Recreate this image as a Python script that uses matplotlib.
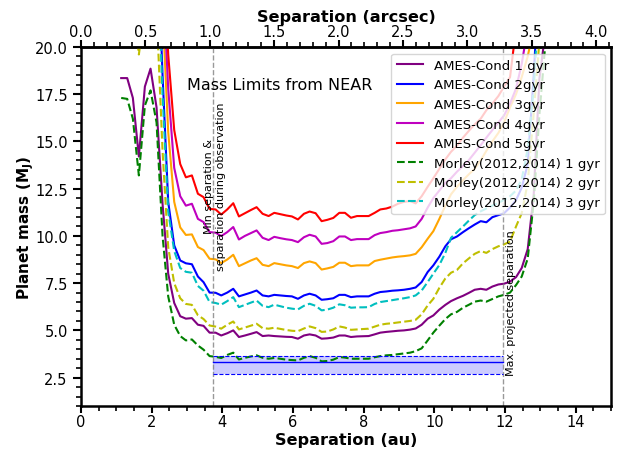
import numpy as np
import matplotlib
matplotlib.use("Agg")
import matplotlib.pyplot as plt
from matplotlib.ticker import MultipleLocator, FixedLocator

nan = np.nan
# separation grid (au)
sep_au = [1.14, 1.31, 1.47, 1.64, 1.81, 1.97, 2.14, 2.31, 2.47, 2.64, 2.81, 2.97, 3.14, 3.31, 3.47,
          3.64, 3.81, 3.97, 4.14, 4.31, 4.47, 4.64, 4.81, 4.97, 5.14, 5.31, 5.47, 5.64, 5.81, 5.97,
          6.14, 6.31, 6.47, 6.64, 6.81, 6.97, 7.14, 7.31, 7.47, 7.64, 7.81, 7.97, 8.14, 8.31, 8.47,
          8.64, 8.81, 8.97, 9.14, 9.31, 9.47, 9.64, 9.81, 9.97, 10.14, 10.31, 10.47, 10.64, 10.81,
          10.97, 11.14, 11.31, 11.47, 11.64, 11.81, 11.97, 12.14, 12.31, 12.47, 12.64, 12.81, 12.97, 13.14]

ames_1gyr = [18.35, 18.35, 17.3, 14.2, 17.9, 18.85, 16.8, 11.7, 8.0, 6.45, 5.75, 5.62, 5.65, 5.3, 5.24, 4.88,
             4.88, 4.73, 4.85, 5.0, 4.65, 4.73, 4.82, 4.91, 4.70, 4.73, 4.70, 4.68, 4.66, 4.65, 4.56, 4.73,
             4.79, 4.73, 4.56, 4.58, 4.62, 4.73, 4.73, 4.65, 4.68, 4.69, 4.70, 4.79, 4.88, 4.92, 4.95, 4.98,
             5.0, 5.04, 5.1,
             5.3, 5.62, 5.79, 6.1, 6.35, 6.55, 6.7, 6.83, 6.98, 7.15, 7.2, 7.15, 7.32, 7.43, 7.47, 7.58,
             7.82, 8.3, 9.3, 12.2, 18.3, 20.8]
ames_2gyr = [nan, nan, nan, nan, nan, nan, 27, 18.5, 11.8, 9.5, 8.7, 8.55, 8.5, 7.85, 7.55, 7.0,
             6.99, 6.85, 7.0, 7.2, 6.8, 6.9, 7.0, 7.11, 6.85, 6.8, 6.88, 6.85, 6.82, 6.8, 6.67, 6.85,
             6.94, 6.85, 6.62, 6.65, 6.7, 6.88, 6.88, 6.76, 6.8, 6.8, 6.8, 6.94, 7.03, 7.06, 7.1, 7.12,
             7.15, 7.2, 7.27,
             7.56, 8.09, 8.44, 8.9, 9.45, 9.82, 9.97, 10.2, 10.4, 10.6, 10.78, 10.72, 10.99, 11.1, 11.2,
             11.5, 11.9, 12.55, 13.8, 18.5, 24, nan]
ames_3gyr = [nan, nan, nan, nan, nan, nan, nan, 22, 15.5, 11.8, 10.45, 10.05, 10.08, 9.41, 9.25, 8.79,
             8.76, 8.56, 8.75, 9.0, 8.4, 8.55, 8.7, 8.82, 8.47, 8.4, 8.56, 8.5, 8.44, 8.4, 8.3, 8.56,
             8.65, 8.56, 8.22, 8.28, 8.36, 8.58, 8.58, 8.4, 8.44, 8.44, 8.44, 8.67, 8.74, 8.8, 8.86, 8.9,
             8.93, 8.97, 9.05,
             9.4, 9.85, 10.25, 10.9, 11.6, 12.2, 12.6, 12.95, 13.25, 13.55, 14.0, 14.5, 15.0, 15.45, 16.0,
             16.8, 17.5, 18.4, 19.5, 21, nan, nan]
ames_4gyr = [nan, nan, nan, nan, nan, nan, nan, 24, 17.8, 13.6, 12.1, 11.6, 11.7, 10.9, 10.73, 10.2,
             10.17, 9.99, 10.2, 10.47, 9.81, 10.0, 10.15, 10.29, 9.9, 9.78, 9.95, 9.88, 9.82, 9.78, 9.67, 9.93,
             10.06, 9.97, 9.58, 9.62, 9.72, 9.97, 9.97, 9.78, 9.83, 9.83, 9.83, 10.04, 10.15, 10.2, 10.27, 10.3,
             10.35, 10.4, 10.5,
             10.9, 11.5, 12.0, 12.4, 12.8, 13.05, 13.4, 13.7, 14.0, 14.4, 14.8, 15.2, 15.6, 16.0, 16.37,
             17.0, 17.8, 19.1, 21, nan, nan, nan]
ames_5gyr = [nan, nan, nan, nan, nan, nan, nan, 26, 19.6, 15.6, 13.8, 13.1, 13.2, 12.23, 12.05, 11.43,
             11.4, 11.13, 11.4, 11.73, 11.03, 11.2, 11.37, 11.52, 11.17, 11.05, 11.22, 11.15, 11.08, 11.03, 10.87, 11.17,
             11.29, 11.2, 10.78, 10.85, 10.95, 11.22, 11.22, 10.96, 11.05, 11.05, 11.05, 11.22, 11.4, 11.45, 11.55, 11.7,
             11.8, 11.85, 11.72,
             12.1, 12.6, 13.05, 13.55, 14.05, 14.45, 14.78, 15.2, 15.55, 15.9, 16.2, 16.65, 17.0, 17.4, 17.9,
             18.4, 21, nan, nan, nan, nan, nan]
morley_1gyr = [17.3, 17.25, 16.2, 13.2, 16.9, 17.7, 16.0, 10.0, 6.8, 5.3, 4.7, 4.47, 4.52, 4.2, 3.98, 3.64,
               3.6, 3.54, 3.7, 3.82, 3.46, 3.55, 3.62, 3.68, 3.55, 3.5, 3.54, 3.5, 3.45, 3.43, 3.41, 3.55,
               3.64, 3.55, 3.36, 3.38, 3.45, 3.59, 3.56, 3.5, 3.5, 3.5, 3.5, 3.58, 3.64, 3.68, 3.7, 3.74,
               3.78, 3.82, 3.9,
               4.05, 4.47, 4.88, 5.25, 5.6, 5.85, 5.98, 6.2, 6.35, 6.52, 6.58, 6.52, 6.66, 6.8, 6.88,
               7.0, 7.4, 7.85, 8.8, 11.8, 16.4, 20.2]
morley_2gyr = [25, 25, 22.5, 19.6, 22, 23, 22, 14.5, 9.4, 7.5, 6.7, 6.4, 6.35, 5.8, 5.6, 5.26,
               5.2, 5.09, 5.3, 5.47, 5.05, 5.15, 5.25, 5.35, 5.12, 5.09, 5.14, 5.08, 5.02, 4.98, 4.96, 5.1,
               5.21, 5.12, 4.92, 4.94, 5.05, 5.21, 5.15, 5.03, 5.05, 5.07, 5.09, 5.2, 5.3, 5.35, 5.38, 5.42,
               5.46, 5.5, 5.56,
               5.85, 6.32, 6.67, 7.25, 7.75, 8.05, 8.2, 8.55, 8.8, 9.05, 9.2, 9.1, 9.3, 9.45, 9.55,
               9.7, 10.5, 11.2, 12.8, 16.5, 20.3, nan]
morley_3gyr = [nan, nan, nan, nan, nan, nan, 26, 17.5, 11.3, 9.2, 8.3, 8.1, 8.05, 7.35, 7.1, 6.5,
               6.45, 6.36, 6.55, 6.76, 6.23, 6.35, 6.47, 6.58, 6.3, 6.23, 6.36, 6.28, 6.2, 6.15, 6.11, 6.3,
               6.41, 6.3, 6.06, 6.1, 6.2, 6.38, 6.33, 6.2, 6.22, 6.22, 6.23, 6.4, 6.5, 6.55, 6.6, 6.65,
               6.7, 6.76, 6.85,
               7.11, 7.56, 8.0, 8.46, 9.1, 9.9, 10.2, 10.5, 10.8, 11.1, 11.3, 11.45, 11.6, 11.75, 11.9,
               12.1, 12.4, 13.0, 14.6, 17.8, 23, nan]

arcsec_ticks = [0.0, 0.5, 1.0, 1.5, 2.0, 2.5, 3.0, 3.5, 4.0]

series = [
    ("AMES-Cond 1 gyr", ames_1gyr, "purple", "-"),
    ("AMES-Cond 2gyr", ames_2gyr, "blue", "-"),
    ("AMES-Cond 3gyr", ames_3gyr, "orange", "-"),
    ("AMES-Cond 4gyr", ames_4gyr, "m", "-"),
    ("AMES-Cond 5gyr", ames_5gyr, "red", "-"),
    ("Morley(2012,2014) 1 gyr", morley_1gyr, "green", "--"),
    ("Morley(2012,2014) 2 gyr", morley_2gyr, "y", "--"),
    ("Morley(2012,2014) 3 gyr", morley_3gyr, "c", "--"),
]

distance_pc = 3.645
min_sep = 3.74
max_sep = 11.93
band_low, band_mid, band_high = 2.67, 3.33, 3.66

fig = plt.figure(figsize=(6.32, 4.52), dpi=100)
ax = fig.add_axes([0.128, 0.0996, 0.839, 0.7944])

for label, vals, col, ls in series:
    ax.plot(sep_au, vals, color=col, ls=ls, lw=1.5, label=label)

ax.axvline(min_sep, color="grey", ls="--", lw=1, alpha=0.8)
ax.axvline(max_sep, color="grey", ls="--", lw=1, alpha=0.8)
ax.fill_between([min_sep, max_sep], [band_low, band_low], [band_high, band_high],
                color="blue", alpha=0.2, lw=0)
ax.plot([min_sep, max_sep], [band_high, band_high], color="blue", ls="--", lw=0.8)
ax.plot([min_sep, max_sep], [band_low, band_low], color="blue", ls="--", lw=0.8)
ax.plot([min_sep, max_sep], [band_mid, band_mid], color="blue", ls="-", lw=1)

ax.text(3.0, 18.0, "Mass Limits from NEAR", fontsize=11.5, va="center", ha="left")
ax.text(min_sep + 0.05, 12.65, "Min separation &\nseparation during observation", rotation=90,
        fontsize=8, ha="center", va="center", multialignment="center")
ax.text(max_sep + 0.24, 6.49, "Max. projected separation", rotation=90,
        fontsize=8, ha="center", va="center")

ax.set_xlim(0, 15)
ax.set_ylim(1, 20)
ax.xaxis.set_major_locator(MultipleLocator(2))
ax.xaxis.set_minor_locator(MultipleLocator(0.5))
ax.yaxis.set_major_locator(MultipleLocator(2.5))
ax.yaxis.set_minor_locator(MultipleLocator(0.5))
ax.tick_params(which="major", length=6, width=1.5, labelsize=10.5)
ax.tick_params(which="minor", length=3.5, width=1.2)
ax.tick_params(axis="x", which="major", length=5, pad=1)
for s in ax.spines.values():
    s.set_linewidth(1.8)

ax.set_xlabel("Separation (au)", fontsize=11.6, fontweight="bold", labelpad=2)
ax.set_ylabel(r"Planet mass (M$_\mathbf{J}$)", fontsize=11, fontweight="bold", labelpad=-1)

sec = ax.secondary_xaxis("top", functions=(lambda a: a / distance_pc, lambda s: s * distance_pc))
sec.xaxis.set_major_locator(FixedLocator(arcsec_ticks))
sec.xaxis.set_minor_locator(MultipleLocator(0.1))
sec.tick_params(which="major", length=5, width=1.5, labelsize=10.5, pad=1)
sec.tick_params(which="minor", length=3.5, width=1.2)
sec.spines["top"].set_linewidth(1.8)
sec.set_xlabel("Separation (arcsec)", fontsize=11.6, fontweight="bold", labelpad=2)

ax.legend(loc="upper right", fontsize=9.5)

fig.savefig("out.png", dpi=100)
